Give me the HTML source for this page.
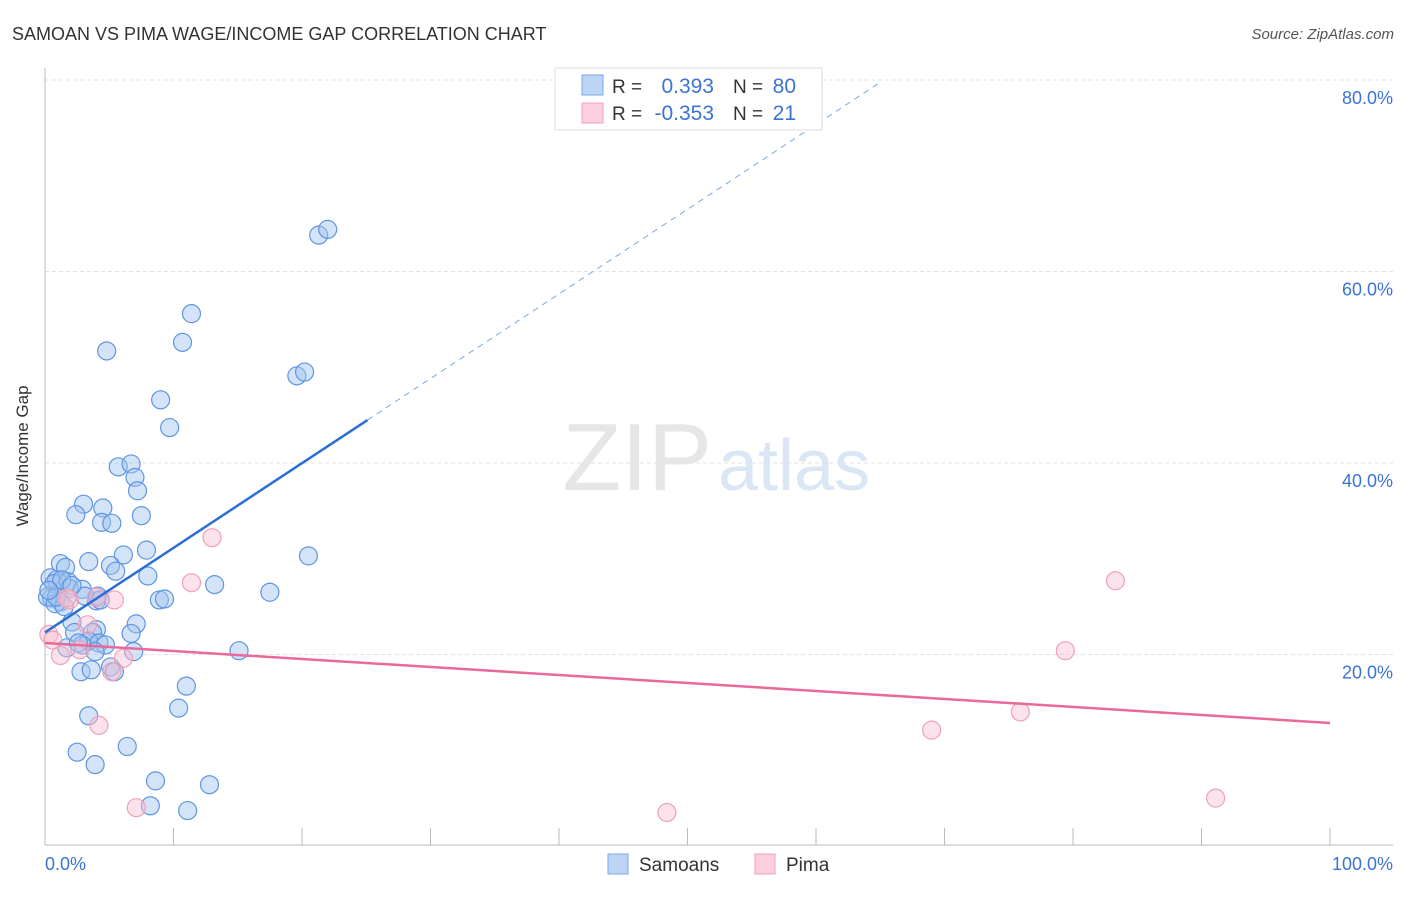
<!DOCTYPE html>
<html><head><meta charset="utf-8"><style>
body{margin:0;background:#fff;font-family:"Liberation Sans",sans-serif}
svg text{font-family:"Liberation Sans",sans-serif}
</style></head><body>
<svg width="1406" height="892">
<text x="12" y="40" font-size="18" fill="#333">SAMOAN VS PIMA WAGE/INCOME GAP CORRELATION CHART</text>
<text x="1394" y="39" font-size="15" fill="#555" font-style="italic" text-anchor="end">Source: ZipAtlas.com</text>
<g id="grid"></g>
<text x="712" y="490" font-size="96" fill="#e6e6e6" text-anchor="end" font-family="Liberation Serif">ZIP</text>
<text x="718" y="490" font-size="72" fill="#dbe6f5">atlas</text>
<line x1="45" y1="68" x2="45" y2="845" stroke="#bbb"/>
<line x1="45" y1="845" x2="1393" y2="845" stroke="#bbb"/>
<g id="ticks"></g>
<text x="28" y="456" font-size="17" fill="#333" text-anchor="middle" transform="rotate(-90 28 456)">Wage/Income Gap</text>
<text x="45" y="870" font-size="18" fill="#3b74d4">0.0%</text>
<text x="1393" y="870" font-size="18" fill="#3b74d4" text-anchor="end">100.0%</text>
<g id="pts"></g>
<g id="lines"></g>
<g>
<rect x="555" y="68" width="267" height="62" fill="#fff" stroke="#ddd"/>
<rect x="582" y="75" width="21" height="20" fill="#bcd5f5" stroke="#7aa8e6"/>
<rect x="582" y="103" width="21" height="20" fill="#fbd0dc" stroke="#f0a0b8"/>
<text x="612" y="93" font-size="19" fill="#333">R =</text><text x="714" y="93" font-size="21" fill="#3b74d4" text-anchor="end">0.393</text>
<text x="733" y="93" font-size="19" fill="#333">N =</text><text x="796" y="93" font-size="21" fill="#3b74d4" text-anchor="end">80</text>
<text x="612" y="120" font-size="19" fill="#333">R =</text><text x="714" y="120" font-size="21" fill="#3b74d4" text-anchor="end">-0.353</text>
<text x="733" y="120" font-size="19" fill="#333">N =</text><text x="796" y="120" font-size="21" fill="#3b74d4" text-anchor="end">21</text>
</g>
<g>
<rect x="608" y="854" width="20" height="20" fill="#bcd5f5" stroke="#7aa8e6"/>
<text x="639" y="871" font-size="19" fill="#333">Samoans</text>
<rect x="755" y="854" width="20" height="20" fill="#fbd0dc" stroke="#f0a0b8"/>
<text x="786" y="871" font-size="19" fill="#333">Pima</text>
</g>
</svg>
<script>
const blueX=[21.3,22.0,11.4,10.7,4.8,19.6,20.2,9.0,9.7,5.7,6.7,7.0,7.2,3.0,4.5,2.4,7.5,4.4,5.2,7.9,6.1,20.5,3.4,1.2,5.1,5.5,1.6,8.0,0.4,0.9,0.7,1.8,1.9,2.9,13.2,17.5,8.9,9.3,4.0,0.5,1.2,3.1,4.1,0.2,0.8,1.5,2.1,4.0,7.1,6.7,2.3,3.7,3.4,2.9,4.2,4.7,1.7,2.6,3.9,6.9,15.1,5.1,5.4,2.8,3.6,11.0,10.4,3.4,6.4,2.5,3.9,8.6,12.8,8.2,11.1,1.3,0.9,4.3,2.1,0.3];
const blueY=[63.8,64.4,55.6,52.6,51.7,49.1,49.5,46.6,43.7,39.6,39.9,38.5,37.1,35.7,35.3,34.6,34.5,33.8,33.7,30.9,30.4,30.3,29.7,29.5,29.3,28.7,29.1,28.2,28.0,27.8,27.4,27.6,26.9,26.8,27.3,26.5,25.7,25.8,25.6,25.9,25.5,26.1,26.1,26.0,25.3,25.0,23.4,22.6,23.2,22.2,22.3,22.3,21.4,21.0,21.2,21.0,20.7,21.2,20.3,20.3,20.4,18.7,18.2,18.2,18.4,16.7,14.4,13.6,10.4,9.8,8.5,6.8,6.4,4.2,3.7,27.8,26.0,25.7,27.2,26.7];
const pinkX=[13.0,11.4,5.4,4.0,1.9,0.3,0.6,1.2,2.7,3.3,6.1,5.2,4.2,7.1,48.4,69.0,75.9,79.4,83.3,91.1,1.7];
const pinkY=[32.2,27.5,25.7,26.0,25.7,22.1,21.5,19.9,20.5,23.1,19.6,18.2,12.6,4.0,3.5,12.1,14.0,20.4,27.7,5.0,25.9];
const yTicks=[20,40,60,80];
const xTicks=[0,10,20,30,40,50,60,70,80,90,100];
const blueTrend=[22.3,0.884];
const pinkTrend=[21.2,-0.0835];
const NS='http://www.w3.org/2000/svg';
const sx=v=>45+v*12.85, sy=v=>846-v*9.575;
function mk(t,a,p){const e=document.createElementNS(NS,t);for(const k in a)e.setAttribute(k,a[k]);document.getElementById(p).appendChild(e);return e;}
yTicks.forEach(v=>{
 const l=mk('line',{x1:45,x2:1393,y1:sy(v),y2:sy(v),stroke:'#e2e2e2','stroke-dasharray':'4,3'},'grid');
 
 
 const t=mk('text',{x:1393,y:sy(v)+24,'font-size':18,fill:'#3b74d4','text-anchor':'end'},'grid');
 t.textContent=v.toFixed(1)+'%';
 
 
});
xTicks.forEach(v=>{
 const l=mk('line',{x1:sx(v),x2:sx(v),y1:828,y2:845,stroke:'#bbb'},'ticks');
 
 
});
blueX.forEach((x,i)=>{
 const c=mk('circle',{cx:sx(x),cy:sy(blueY[i]),r:9,fill:'rgba(160,196,240,0.45)',stroke:'#5f95e0','stroke-width':1.2},'pts');
 
 
});
pinkX.forEach((x,i)=>{
 const c=mk('circle',{cx:sx(x),cy:sy(pinkY[i]),r:9,fill:'rgba(248,190,208,0.45)',stroke:'#f0a0b8','stroke-width':1.2},'pts');
 
 
});
const bf=x=>blueTrend[0]+blueTrend[1]*x, pf=x=>pinkTrend[0]+pinkTrend[1]*x;
let l1=mk('line',{x1:sx(0),y1:sy(bf(0)),x2:sx(25.1),y2:sy(bf(25.1)),stroke:'#2a6fd4','stroke-width':2.5},'lines');


let l2=mk('line',{x1:sx(25.1),y1:sy(bf(25.1)),x2:sx(65),y2:sy(bf(65)),stroke:'#7aa8e6','stroke-width':1,'stroke-dasharray':'6,5'},'lines');


let l3=mk('line',{x1:sx(0),y1:sy(pf(0)),x2:sx(100),y2:sy(pf(100)),stroke:'#e8699a','stroke-width':2.5},'lines');


</script>
</body></html>
